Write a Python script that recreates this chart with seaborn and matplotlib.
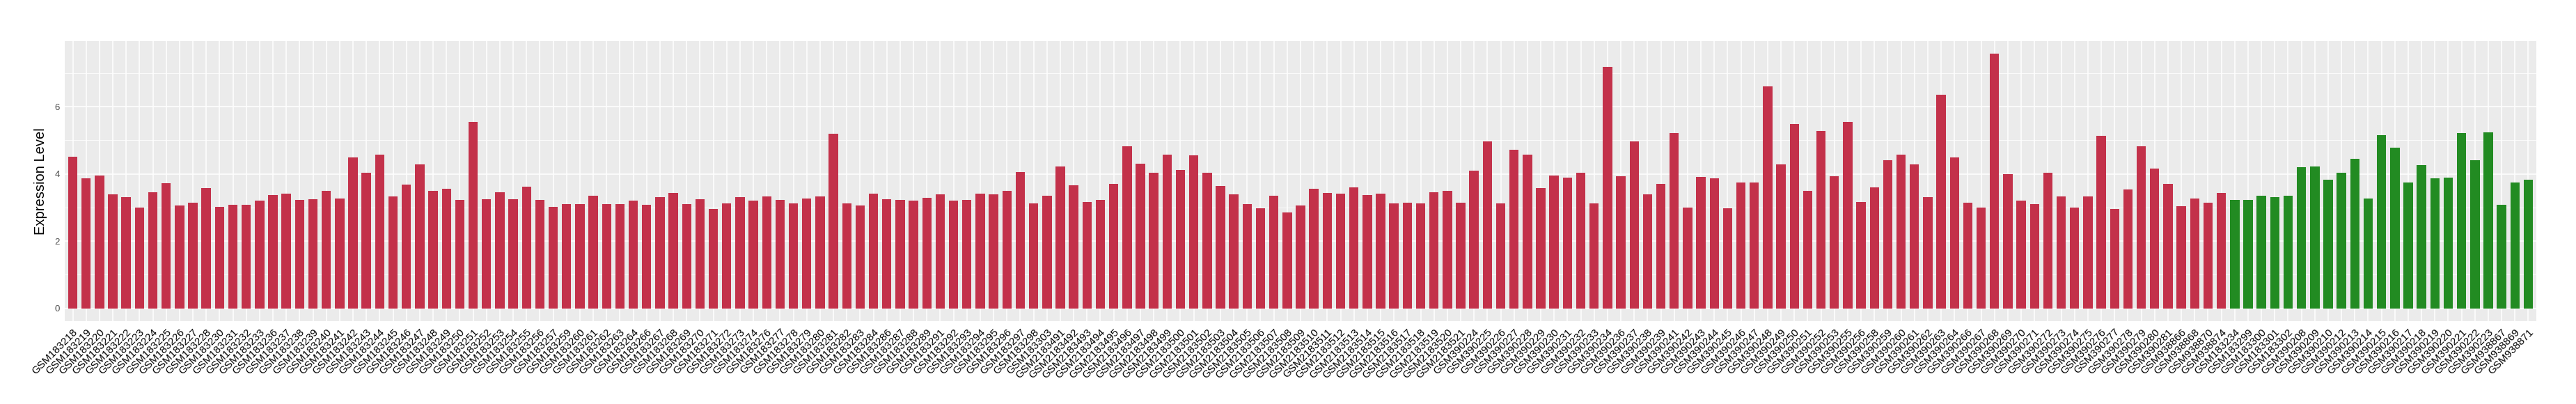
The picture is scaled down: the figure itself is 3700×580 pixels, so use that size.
import seaborn as sns
import matplotlib.pyplot as plt
import pandas as pd
from matplotlib.ticker import MultipleLocator

# sample ids in plotting order (red group first, then green group)
tumor_gsm183 = ["GSM183218", "GSM183219", "GSM183220", "GSM183221", "GSM183222", "GSM183223",
                "GSM183224", "GSM183225", "GSM183226", "GSM183227", "GSM183228", "GSM183230",
                "GSM183231", "GSM183232", "GSM183233", "GSM183236", "GSM183237", "GSM183238",
                "GSM183239", "GSM183240", "GSM183241", "GSM183242", "GSM183243", "GSM183244",
                "GSM183245", "GSM183246", "GSM183247", "GSM183248", "GSM183249", "GSM183250",
                "GSM183251", "GSM183252", "GSM183253", "GSM183254", "GSM183255", "GSM183256",
                "GSM183257", "GSM183259", "GSM183260", "GSM183261", "GSM183262", "GSM183263",
                "GSM183264", "GSM183266", "GSM183267", "GSM183268", "GSM183269", "GSM183270",
                "GSM183271", "GSM183272", "GSM183273", "GSM183274", "GSM183276", "GSM183277",
                "GSM183278", "GSM183279", "GSM183280", "GSM183281", "GSM183282", "GSM183283",
                "GSM183284", "GSM183286", "GSM183287", "GSM183288", "GSM183289", "GSM183291",
                "GSM183292", "GSM183293", "GSM183294", "GSM183295", "GSM183296", "GSM183297",
                "GSM183298", "GSM183303"]
tumor_gsm183_vals = [4.52, 3.86, 3.96, 3.39, 3.30, 3.00, 3.45, 3.73, 3.05, 3.15, 3.58, 3.02,
                     3.09, 3.09, 3.20, 3.37, 3.41, 3.22, 3.24, 3.49, 3.26, 4.48, 4.03, 4.58,
                     3.32, 3.69, 4.28, 3.49, 3.56, 3.22, 5.54, 3.24, 3.45, 3.24, 3.62, 3.22,
                     3.02, 3.11, 3.11, 3.35, 3.11, 3.11, 3.20, 3.09, 3.30, 3.43, 3.11, 3.24,
                     2.96, 3.13, 3.30, 3.20, 3.32, 3.22, 3.13, 3.26, 3.32, 5.20, 3.13, 3.05,
                     3.41, 3.24, 3.22, 3.20, 3.28, 3.39, 3.20, 3.22, 3.41, 3.39, 3.49, 4.05,
                     3.13, 3.35]

tumor_gsm2183 = ["GSM2183491", "GSM2183492", "GSM2183493", "GSM2183494", "GSM2183495",
                 "GSM2183496", "GSM2183497", "GSM2183498", "GSM2183499", "GSM2183500",
                 "GSM2183501", "GSM2183502", "GSM2183503", "GSM2183504", "GSM2183505",
                 "GSM2183506", "GSM2183507", "GSM2183508", "GSM2183509", "GSM2183510",
                 "GSM2183511", "GSM2183512", "GSM2183513", "GSM2183514", "GSM2183515",
                 "GSM2183516", "GSM2183517", "GSM2183518", "GSM2183519", "GSM2183520",
                 "GSM2183521"]
tumor_gsm2183_vals = [4.22, 3.67, 3.17, 3.22, 3.71, 4.82, 4.31, 4.03, 4.58, 4.11, 4.56, 4.03,
                      3.64, 3.39, 3.11, 2.98, 3.35, 2.85, 3.05, 3.56, 3.43, 3.41, 3.60, 3.37,
                      3.41, 3.13, 3.15, 3.13, 3.45, 3.49, 3.15]

tumor_gsm390 = ["GSM390224", "GSM390225", "GSM390226", "GSM390227", "GSM390228", "GSM390229",
                "GSM390230", "GSM390231", "GSM390232", "GSM390233", "GSM390234", "GSM390236",
                "GSM390237", "GSM390238", "GSM390239", "GSM390241", "GSM390242", "GSM390243",
                "GSM390244", "GSM390245", "GSM390246", "GSM390247", "GSM390248", "GSM390249",
                "GSM390250", "GSM390251", "GSM390252", "GSM390253", "GSM390255", "GSM390256",
                "GSM390258", "GSM390259", "GSM390260", "GSM390261", "GSM390262", "GSM390263",
                "GSM390264", "GSM390266", "GSM390267", "GSM390268", "GSM390269", "GSM390270",
                "GSM390271", "GSM390272", "GSM390273", "GSM390274", "GSM390275", "GSM390276",
                "GSM390277", "GSM390278", "GSM390279", "GSM390280", "GSM390281",
                "GSM938866", "GSM938868", "GSM938870", "GSM938874"]
tumor_gsm390_vals = [4.09, 4.97, 3.13, 4.71, 4.58, 3.58, 3.96, 3.88, 4.03, 3.13, 7.19, 3.94,
                     4.97, 3.39, 3.71, 5.22, 3.00, 3.90, 3.86, 2.98, 3.75, 3.75, 6.61, 4.28,
                     5.48, 3.49, 5.27, 3.92, 5.54, 3.17, 3.60, 4.41, 4.58, 4.28, 3.30, 6.36,
                     4.48, 3.15, 3.00, 7.57, 3.99, 3.20, 3.11, 4.03, 3.32, 3.00, 3.32, 5.14,
                     2.96, 3.54, 4.82, 4.16, 3.71,
                     3.04, 3.27, 3.15, 3.44]

normal_ids = ["GSM183234", "GSM183299", "GSM183300", "GSM183301", "GSM183302", "GSM390208",
              "GSM390209", "GSM390210", "GSM390212", "GSM390213", "GSM390214", "GSM390215",
              "GSM390216", "GSM390217", "GSM390218", "GSM390219", "GSM390220", "GSM390221",
              "GSM390222", "GSM390223", "GSM938867", "GSM938869", "GSM938871"]
normal_vals = [3.23, 3.23, 3.34, 3.30, 3.34, 4.19, 4.21, 3.83, 4.04, 4.45, 3.27, 5.15,
               4.77, 3.74, 4.26, 3.87, 3.89, 5.22, 4.41, 5.24, 3.08, 3.74, 3.83]

tumor_ids = tumor_gsm183 + tumor_gsm2183 + tumor_gsm390
tumor_vals = tumor_gsm183_vals + tumor_gsm2183_vals + tumor_gsm390_vals

df = pd.DataFrame({
    "sample": tumor_ids + normal_ids,
    "expr": tumor_vals + normal_vals,
    "group": ["Tumor"] * len(tumor_ids) + ["Normal"] * len(normal_ids),
})
palette = {"Tumor": "#C3314A", "Normal": "#228B22"}

sns.set_style("darkgrid", {"axes.facecolor": "#EBEBEB", "grid.color": "white"})
plt.rcParams['font.family'] = ['Liberation Sans', 'DejaVu Sans']

W, H = 3700, 580
fig = plt.figure(figsize=(W / 100, H / 100), dpi=100)
ax = fig.add_axes([93 / W, 1 - 461 / H, (3643 - 93) / W, (461 - 59) / H])

sns.barplot(data=df, x="sample", y="expr", hue="group", palette=palette,
            width=0.7, dodge=False, saturation=1, linewidth=0, legend=False, ax=ax)

ymax = df["expr"].max()
ax.set_ylim(-0.05 * ymax, 1.05 * ymax)
ax.set_xlim(-0.6, len(df) - 0.4)
ax.set_yticks([0, 2, 4, 6])
ax.yaxis.set_minor_locator(MultipleLocator(1))
ax.set_axisbelow(True)
ax.grid(which="major", color="white", linewidth=1.1)
ax.grid(which="minor", axis="y", color="white", linewidth=0.55)
for s in ax.spines.values():
    s.set_visible(False)

ax.tick_params(axis="both", which="major", length=3, width=0.8, color="#333333")
ax.tick_params(axis="y", which="minor", length=0)
ax.tick_params(axis="y", labelsize=9.5, labelcolor="#4D4D4D", pad=2)
ax.tick_params(axis="x", labelsize=11, labelcolor="black", pad=3)
for lab in ax.get_xticklabels():
    lab.set_rotation(45)
    lab.set_ha("right")
    lab.set_va("top")
    lab.set_rotation_mode("anchor")

ax.set_xlabel("")
ax.set_ylabel("Expression Level", fontsize=14.5, color="black", labelpad=8)

fig.savefig("out.png", dpi=100)
